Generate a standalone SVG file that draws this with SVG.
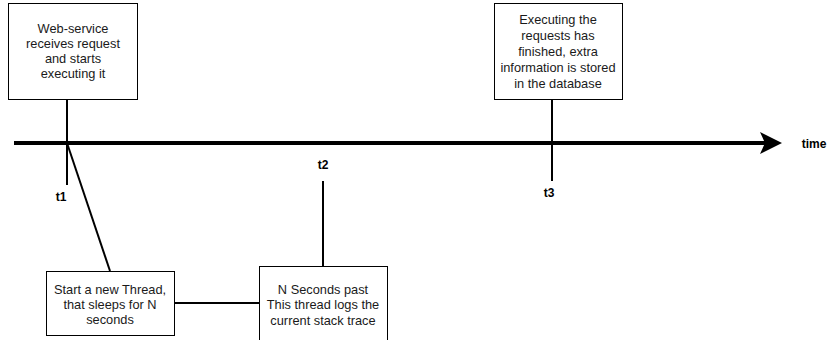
<svg xmlns="http://www.w3.org/2000/svg" width="829" height="340" viewBox="0 0 829 340">
  <style>
    .box { fill: #ffffff; stroke: #000000; stroke-width: 1; }
    .lbl { font-family: "Liberation Sans", Arial, sans-serif; font-size: 12.8px; fill: #1a1a1a; text-anchor: middle; }
    .tick { font-family: "Liberation Sans", Arial, sans-serif; font-size: 12px; font-weight: bold; fill: #000000; text-anchor: middle; }
    .conn { stroke: #000000; stroke-width: 2; fill: none; }
  </style>
  <rect width="829" height="340" fill="#ffffff"/>

  <!-- connectors -->
  <g id="connectors">
    <line class="conn" x1="67" y1="99" x2="67" y2="185"/>
    <line class="conn" x1="67" y1="143" x2="110" y2="271"/>
    <line class="conn" x1="174" y1="303" x2="259" y2="303"/>
    <line class="conn" x1="323" y1="181" x2="323" y2="266"/>
    <line class="conn" x1="552" y1="99" x2="552" y2="181"/>
  </g>

  <!-- time axis -->
  <g id="axis">
    <line x1="14" y1="143" x2="766" y2="143" stroke="#000000" stroke-width="4"/>
    <polygon points="782,143 760,132 765,143 760,154" fill="#000000"/>
    <text class="tick" x="814" y="148">time</text>
  </g>

  <g id="t1"><text class="tick" x="61" y="201">t1</text></g>
  <g id="t2"><text class="tick" x="323" y="169">t2</text></g>
  <g id="t3"><text class="tick" x="549" y="197">t3</text></g>

  <g id="request-received">
    <rect class="box" x="8.5" y="3.5" width="129" height="96"/>
    <text class="lbl" x="73" y="33">Web-service</text>
    <text class="lbl" x="73" y="48">receives request</text>
    <text class="lbl" x="73" y="63">and starts</text>
    <text class="lbl" x="73" y="78">executing it</text>
  </g>

  <g id="request-finished">
    <rect class="box" x="494.5" y="3.5" width="128" height="96"/>
    <text class="lbl" x="558" y="24">Executing the</text>
    <text class="lbl" x="558" y="40">requests has</text>
    <text class="lbl" x="558" y="56">finished, extra</text>
    <text class="lbl" x="558" y="72">information is stored</text>
    <text class="lbl" x="558" y="88">in the database</text>
  </g>

  <g id="sleeper-thread">
    <rect class="box" x="46.5" y="271.5" width="128" height="64"/>
    <text class="lbl" x="110" y="294">Start a new Thread,</text>
    <text class="lbl" x="110" y="309">that sleeps for N</text>
    <text class="lbl" x="110" y="324">seconds</text>
  </g>

  <g id="stack-trace">
    <rect class="box" x="259.5" y="266.5" width="128" height="78"/>
    <text class="lbl" x="323" y="294">N Seconds past</text>
    <text class="lbl" x="323" y="309">This thread logs the</text>
    <text class="lbl" x="323" y="325">current stack trace</text>
  </g>
</svg>
